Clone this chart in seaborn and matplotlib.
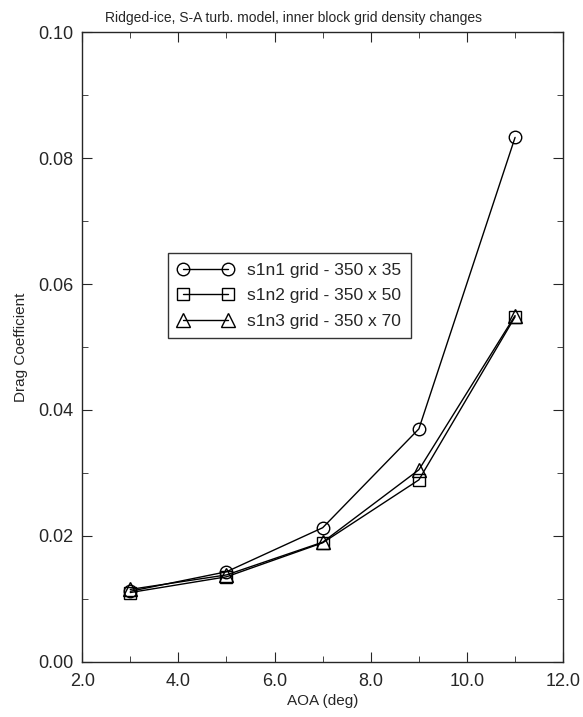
import pandas as pd
import seaborn as sns
import matplotlib.pyplot as plt
import numpy as np

aoa = [3.0, 5.0, 7.0, 9.0, 11.0]
cd_s1n1 = [0.0112, 0.0143, 0.0213, 0.0370, 0.0833]
cd_s1n2 = [0.0110, 0.0135, 0.0189, 0.0289, 0.0548]
cd_s1n3 = [0.0115, 0.0138, 0.0190, 0.0305, 0.0550]
labels = ["s1n1 grid - 350 x 35", "s1n2 grid - 350 x 50", "s1n3 grid - 350 x 70"]
markers = ["o", "s", "^"]

sns.set_style("ticks")
plt.rcParams['font.family'] = ['Liberation Sans', 'DejaVu Sans']

fig = plt.figure(figsize=(5.83, 7.17), dpi=100)
ax = fig.add_axes([0.141, 0.077, 0.825, 0.878])

for cd, lab, m in zip([cd_s1n1, cd_s1n2, cd_s1n3], labels, markers):
    df = pd.DataFrame({"AOA": aoa, "Cd": cd})
    sns.lineplot(x="AOA", y="Cd", data=df, ax=ax, color="black", linewidth=1.0,
                 marker=m, markersize=10 if m == "^" else 9, markerfacecolor="none",
                 markeredgecolor="black", markeredgewidth=1.0, label=lab)

ax.set_xlim(2, 12)
ax.set_ylim(0, 0.1)
ax.set_xticks(np.arange(2, 12.1, 2))
ax.set_xticklabels(["2.0", "4.0", "6.0", "8.0", "10.0", "12.0"])
ax.set_xticks(np.arange(3, 12, 2), minor=True)
ax.set_yticks(np.arange(0, 0.101, 0.02))
ax.set_yticklabels(["0.00", "0.02", "0.04", "0.06", "0.08", "0.10"])
ax.set_yticks(np.arange(0.01, 0.1, 0.02), minor=True)
ax.tick_params(which="both", direction="in", top=True, right=True, labelsize=13)
ax.tick_params(axis="x", pad=8)
ax.tick_params(axis="y", pad=6)
ax.tick_params(which="major", length=7)
ax.tick_params(which="minor", length=4)
for s in ax.spines.values():
    s.set_linewidth(1.0)

ax.set_xlabel("AOA (deg)", fontsize=11, labelpad=3)
ax.set_ylabel("Drag Coefficient", fontsize=11, labelpad=8)
fig.text(0.504, 0.975, "Ridged-ice, S-A turb. model, inner block grid density changes",
         fontsize=10, ha="center", va="center")

leg = ax.legend(loc="upper left", bbox_to_anchor=(0.161, 0.663), numpoints=2,
                fontsize=12.5, frameon=True, fancybox=False, edgecolor="black",
                handlelength=3.2, handletextpad=0.8, borderpad=0.55, labelspacing=0.6)
leg.get_frame().set_linewidth(1.0)

fig.savefig("out.png", dpi=100)
